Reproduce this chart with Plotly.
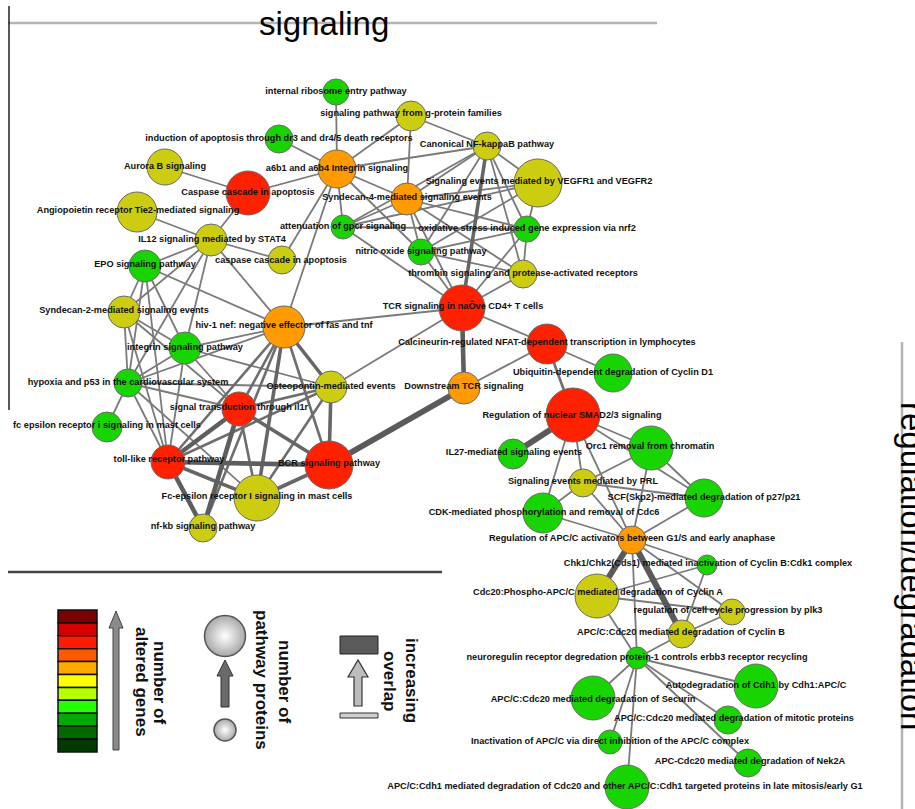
import plotly.graph_objects as go

# ---------------- data ----------------
node_ids = ["IRE", "GPF", "DR3", "NFKB", "AUR", "A6B", "VEG", "CAS", "SY4", "ANG",
            "GPCR", "OX", "IL12", "NO", "CSP", "EPO", "THR", "TCR", "SY2", "HIV",
            "CAL", "INT", "HYP", "OST", "DTCR", "IL1R", "FCS", "TLR", "BCR", "FCL",
            "NFKBS", "UBQ", "SMAD", "ORC", "IL27", "PRL", "SCF", "CDK", "APCA", "CHK",
            "CYA", "PLK3", "CYB", "NRDP", "CDH1", "SEC", "MIT", "INA", "NEK", "CDC20"]
node_labels = [
    "internal ribosome entry pathway",
    "signaling pathway from g-protein families",
    "induction of apoptosis through dr3 and dr4/5 death receptors",
    "Canonical NF-kappaB pathway",
    "Aurora B signaling",
    "a6b1 and a6b4 Integrin signaling",
    "Signaling events mediated by VEGFR1 and VEGFR2",
    "Caspase cascade in apoptosis",
    "Syndecan-4-mediated signaling events",
    "Angiopoietin receptor Tie2-mediated signaling",
    "attenuation of gpcr signaling",
    "oxidative stress induced gene expression via nrf2",
    "IL12 signaling mediated by STAT4",
    "nitric oxide signaling pathway",
    "caspase cascade in apoptosis",
    "EPO signaling pathway",
    "thrombin signaling and protease-activated receptors",
    "TCR signaling in naÔve CD4+ T cells",
    "Syndecan-2-mediated signaling events",
    "hiv-1 nef: negative effector of fas and tnf",
    "Calcineurin-regulated NFAT-dependent transcription in lymphocytes",
    "integrin signaling pathway",
    "hypoxia and p53 in the cardiovascular system",
    "Osteopontin-mediated events",
    "Downstream TCR signaling",
    "signal transduction through il1r",
    "fc epsilon receptor i signaling in mast cells",
    "toll-like receptor pathway",
    "BCR signaling pathway",
    "Fc-epsilon receptor I signaling in mast cells",
    "nf-kb signaling pathway",
    "Ubiquitin-dependent degradation of Cyclin D1",
    "Regulation of nuclear SMAD2/3 signaling",
    "Orc1 removal from chromatin",
    "IL27-mediated signaling events",
    "Signaling events mediated by PRL",
    "SCF(Skp2)-mediated degradation of p27/p21",
    "CDK-mediated phosphorylation and removal of Cdc6",
    "Regulation of APC/C activators between G1/S and early anaphase",
    "Chk1/Chk2(Cds1) mediated inactivation of Cyclin B:Cdk1 complex",
    "Cdc20:Phospho-APC/C mediated degradation of Cyclin A",
    "regulation of cell cycle progression by plk3",
    "APC/C:Cdc20 mediated degradation of Cyclin B",
    "neuroregulin receptor degredation protein-1 controls erbb3 receptor recycling",
    "Autodegradation of Cdh1 by Cdh1:APC/C",
    "APC/C:Cdc20 mediated degradation of Securin",
    "APC/C:Cdc20 mediated degradation of mitotic proteins",
    "Inactivation of APC/C via direct inhibition of the APC/C complex",
    "APC-Cdc20 mediated degradation of Nek2A",
    "APC/C:Cdh1 mediated degradation of Cdc20 and other APC/C:Cdh1 targeted proteins in late mitosis/early G1",
]
# network layout coordinates (pixel space of the original figure)
node_x = [336, 411, 279, 487, 165, 337, 538, 248, 407, 137,
          343, 527, 211, 421, 282, 145, 523, 462, 124, 284,
          547, 185, 128, 331, 464, 239, 107, 168, 329, 257,
          203, 613, 573, 651, 513, 583, 704, 543, 632, 707,
          597, 732, 682, 637, 756, 593, 728, 610, 748, 627]
node_y = [92, 116, 139, 146, 167, 169, 183, 193, 199, 212,
          227, 229, 240, 252, 260, 266, 274, 308, 312, 327,
          344, 348, 383, 387, 388, 409, 427, 462, 465, 498,
          528, 373, 415, 448, 454, 483, 498, 513, 540, 565,
          596, 612, 634, 658, 686, 698, 720, 742, 763, 787]
# number of pathway proteins (relative node size)
node_proteins = [13, 15, 14, 14, 18, 19, 24, 22, 16, 20,
                 12, 13, 16, 13, 14, 16, 14, 23, 16, 21,
                 20, 16, 14, 16, 16, 17, 15, 17, 24, 23,
                 14, 19, 27, 22, 15, 14, 19, 20, 14, 10,
                 22, 13, 14, 11, 22, 22, 14, 12, 14, 22]
# number of altered genes (class): g=low, y=medium, o=high, r=highest
node_level = ["g", "y", "g", "y", "y", "o", "y", "r", "o", "y",
              "g", "g", "y", "g", "y", "g", "y", "r", "y", "o",
              "r", "g", "g", "y", "o", "r", "g", "r", "r", "y",
              "y", "g", "r", "g", "g", "y", "g", "g", "o", "g",
              "y", "y", "y", "g", "g", "g", "g", "g", "g", "g"]
label_dx = [0, 0, 0, 0, 0, 0, 1, 0, 0, 1,
            0, 0, 1, 0, -1, 0, 0, 1, 0, 0,
            0, 0, 0, 0, 0, 0, 0, 1, 0, 0,
            0, 0, -1, -1, 1, 0, 0, 1, 0, 1,
            1, -4, -1, 0, 0, 0, 6, 0, 2, -2]
label_dy = [0, -2, 0, -1, 0, 0, -1, 0, -1, -1,
            0, 0, 0, 0, 1, -1, 0, -1, -1, -1,
            -1, 0, 0, 0, -1, -1, -1, -2, -1, -1,
            -1, 0, 1, -1, -1, -1, 0, 0, -1, -1,
            -3, -1, -1, 0, 0, 2, -1, 0, -1, 0]

edge_src = ["IRE", "GPF", "GPF", "GPF", "DR3", "AUR", "CAS", "CAS", "ANG", "A6B",
            "A6B", "A6B", "A6B", "A6B", "A6B", "NFKB", "NFKB", "NFKB", "NFKB", "NFKB",
            "NFKB", "VEG", "VEG", "VEG", "VEG", "SY4", "SY4", "SY4", "SY4", "SY4",
            "GPCR", "GPCR", "OX", "OX", "OX", "NO", "NO", "THR", "TCR", "TCR",
            "TCR", "CAL", "CAL", "IL12", "IL12", "IL12", "IL12", "IL12", "IL12", "EPO",
            "EPO", "EPO", "EPO", "EPO", "SY2", "SY2", "SY2", "SY2", "INT", "INT",
            "INT", "INT", "INT", "HYP", "HYP", "HYP", "HYP", "HYP", "HYP",
            "HIV", "HIV", "HIV", "IL1R", "IL1R", "OST", "CAL", "TLR",
            "HIV", "HIV", "HIV", "NFKB", "IL1R", "TLR", "BCR", "BCR", "TLR", "TLR",
            "IL1R", "IL1R", "TCR", "DTCR", "APCA", "APCA",
            "SMAD", "SMAD", "SMAD", "SMAD", "SMAD", "SMAD", "ORC", "ORC", "ORC", "PRL",
            "PRL", "PRL", "CDK", "SCF", "APCA", "APCA", "APCA", "CHK", "CHK", "CYA",
            "CYA", "PLK3", "CYB", "NRDP", "NRDP", "NRDP", "NRDP", "NRDP", "NRDP"]
edge_dst = ["A6B", "A6B", "SY4", "NFKB", "A6B", "CAS", "A6B", "IL12", "IL12", "NFKB",
            "SY4", "GPCR", "CSP", "HIV", "NO", "VEG", "SY4", "GPCR", "NO", "OX",
            "THR", "OX", "SY4", "GPCR", "NO", "GPCR", "OX", "NO", "THR", "TCR",
            "OX", "TCR", "NO", "THR", "TCR", "TCR", "THR", "TCR", "HIV", "CAL",
            "OST", "DTCR", "UBQ", "CSP", "EPO", "SY2", "INT", "HYP", "HIV", "SY2",
            "INT", "HYP", "HIV", "TLR", "INT", "HYP", "TLR", "IL1R", "HYP", "HIV",
            "OST", "TLR", "IL1R", "FCS", "OST", "IL1R", "TLR", "HIV", "FCL",
            "IL1R", "BCR", "NFKBS", "FCL", "OST", "FCL", "SMAD", "OST",
            "TLR", "FCL", "OST", "TCR", "BCR", "FCL", "FCL", "OST", "BCR", "NFKBS",
            "NFKBS", "TLR", "DTCR", "BCR", "CYA", "CYB",
            "IL27", "ORC", "PRL", "CDK", "APCA", "SCF", "PRL", "APCA", "SCF", "CDK",
            "APCA", "SCF", "APCA", "APCA", "CHK", "PLK3", "NRDP", "CYA", "CYB", "PLK3",
            "NRDP", "CYB", "NRDP", "CDH1", "SEC", "MIT", "INA", "NEK", "CDC20"]
# overlap between pathways (1 = small ... 5 = large)
edge_overlap = [1] * 69 + [2] * 9 + [3, 3, 3, 3, 3, 3, 3, 4, 4, 4, 4, 4, 5, 5, 5, 5] + [1] * 29

legend_colors = ["#7a0000", "#d40000", "#ff1a00", "#ff5a00", "#ffa800", "#ffff00",
                 "#b4ff00", "#22ff00", "#00aa00", "#006a00", "#003a00"]

# ---------------- styles ----------------
level_color = {"g": "#18d400", "y": "#cccc10", "o": "#ff9a00", "r": "#ff2000"}
overlap_width = {1: 1.8, 2: 2.6, 3: 3.6, 4: 4.6, 5: 6.0}
overlap_color = {1: "#7a7a7a", 2: "#6e6e6e", 3: "#666666", 4: "#5e5e5e", 5: "#5a5a5a"}

W, H = 915, 809

pos = {k: (x, y) for k, x, y in zip(node_ids, node_x, node_y)}

fig = go.Figure()

for w in sorted(set(edge_overlap)):
    xs, ys = [], []
    for s, d, o in zip(edge_src, edge_dst, edge_overlap):
        if o != w:
            continue
        xs += [pos[s][0], pos[d][0], None]
        ys += [pos[s][1], pos[d][1], None]
    fig.add_trace(go.Scatter(x=xs, y=ys, mode="lines",
                             line=dict(color=overlap_color[w], width=overlap_width[w]),
                             hoverinfo="skip"))

fig.add_trace(go.Scatter(
    x=node_x, y=node_y, mode="markers",
    marker=dict(size=[2 * p for p in node_proteins], opacity=1,
                color=[level_color[l] for l in node_level],
                line=dict(color="#6a6a6a", width=1)),
    hoverinfo="skip"))

fig.add_trace(go.Scatter(
    x=[x + dx for x, dx in zip(node_x, label_dx)],
    y=[y + dy for y, dy in zip(node_y, label_dy)],
    mode="text", text=node_labels, textposition="middle center",
    textfont=dict(family="Liberation Sans, Arial", size=9.2,
                  color="#111111", weight="bold"),
    hoverinfo="skip"))

# legend: size circles with radial gradient
fig.add_trace(go.Scatter(
    x=[225, 225], y=[636, 730], mode="markers",
    marker=dict(size=[41, 22], color="#a8a8a8", opacity=1,
                gradient=dict(type="radial", color="#ffffff"),
                line=dict(color="#555555", width=1.5)),
    hoverinfo="skip"))

shapes = []
# frame lines
shapes.append(dict(type="line", x0=8, x1=657, y0=23, y1=23, line=dict(color="#b4b4b4", width=2.5)))
shapes.append(dict(type="line", x0=9, x1=9, y0=6, y1=410, line=dict(color="#222222", width=1.5)))
shapes.append(dict(type="line", x0=8, x1=442, y0=572, y1=572, line=dict(color="#444444", width=2.5)))
shapes.append(dict(type="line", x0=902, x1=902, y0=342, y1=809, line=dict(color="#b4b4b4", width=2.5)))

# legend color bar
y_top, box_h = 610, 12.9
for i, c in enumerate(legend_colors):
    shapes.append(dict(type="rect", x0=58, x1=97, y0=y_top + i * box_h, y1=y_top + (i + 1) * box_h,
                       fillcolor=c, line=dict(color="#111111", width=1.5)))
# arrow for altered genes
shapes.append(dict(type="path",
                   path="M 113 750 L 113 628 L 109 628 L 116 611 L 123 628 L 119 628 L 119 750 Z",
                   fillcolor="#8a8a8a", line=dict(color="#444444", width=1)))
# arrow for pathway proteins
shapes.append(dict(type="path",
                   path="M 221 707 L 221 676 L 217 676 L 225 660 L 233 676 L 229 676 L 229 707 Z",
                   fillcolor="#6a6a6a", line=dict(color="#333333", width=1)))
# overlap legend
shapes.append(dict(type="rect", x0=340, x1=378, y0=636, y1=654,
                   fillcolor="#5a5a5a", line=dict(color="#222222", width=1)))
shapes.append(dict(type="path",
                   path="M 354 706 L 354 677 L 348 677 L 358 660 L 368 677 L 362 677 L 362 706 Z",
                   fillcolor="#bdbdbd", line=dict(color="#333333", width=1.2)))
shapes.append(dict(type="rect", x0=340, x1=378, y0=713, y1=718,
                   fillcolor="#cfcfcf", line=dict(color="#333333", width=1)))

annotations = [
    dict(x=324, y=23, text="signaling", showarrow=False,
         font=dict(family="Liberation Sans, Arial", size=33, color="#000000")),
    dict(x=910, y=566, xshift=3, text="regulation/degradation", showarrow=False, textangle=90,
         font=dict(family="Liberation Sans, Arial", size=33, color="#000000")),
]
legend_texts = [("number of", 160, 682), ("altered genes", 142, 682),
                ("number of", 285, 681), ("pathway proteins", 262, 680),
                ("increasing", 412, 680), ("overlap", 390, 681)]
for t, x, y in legend_texts:
    annotations.append(dict(x=x, y=y, text=t, showarrow=False, textangle=90,
                            font=dict(family="Liberation Sans, Arial", size=17,
                                      color="#111111", weight="bold")))

fig.update_layout(
    width=W, height=H, autosize=False,
    margin=dict(l=0, r=0, t=0, b=0),
    paper_bgcolor="white", plot_bgcolor="white",
    showlegend=False,
    xaxis=dict(range=[0, W], visible=False, fixedrange=True),
    yaxis=dict(range=[H, 0], visible=False, fixedrange=True),
    shapes=shapes, annotations=annotations,
)
for s in fig.layout.shapes:
    s.layer = "below"

fig.write_html("out.html", config={"displayModeBar": False},
               post_script="document.body.style.margin='0';document.body.style.overflow='hidden';")
